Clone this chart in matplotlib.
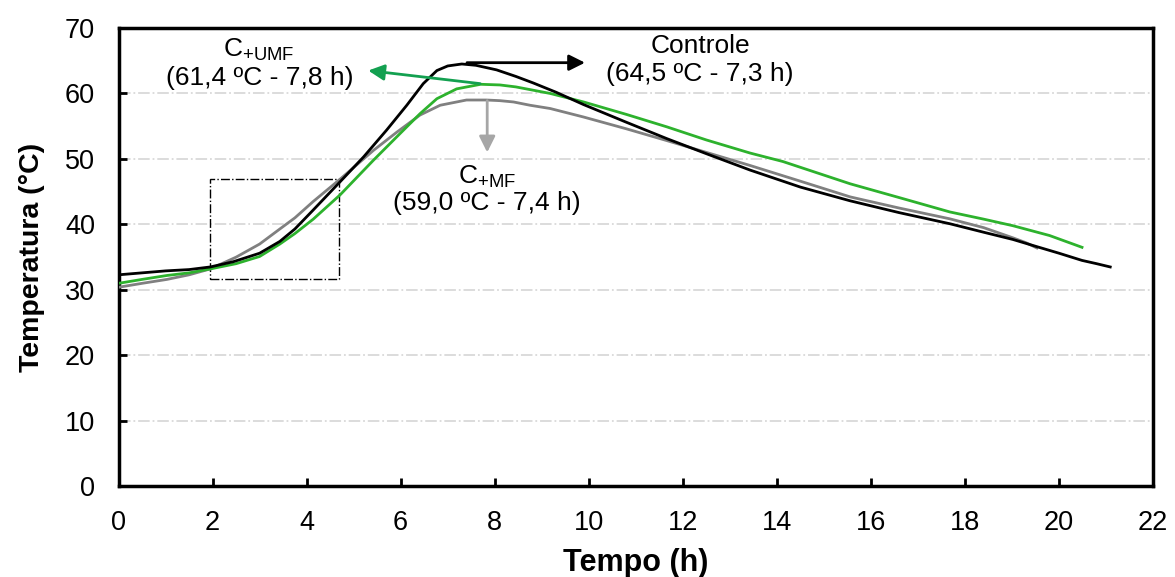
import matplotlib.pyplot as plt
from matplotlib.patches import Rectangle

plt.rcParams['font.family'] = ['Liberation Sans', 'DejaVu Sans']
plt.rcParams['mathtext.fontset'] = 'custom'
plt.rcParams['mathtext.rm'] = 'Liberation Sans'

# Curvas de temperatura (h, °C)
tempo_controle = [0.0, 0.5, 1.0, 1.5, 1.95, 2.44, 3.0, 3.43, 3.75, 4.14, 4.71, 5.21, 5.70,
                  6.13, 6.48, 6.77, 7.0, 7.3, 7.6, 8.04, 8.45, 8.82, 9.3, 9.89, 10.8, 11.66,
                  12.5, 13.43, 14.5, 15.56, 16.6, 17.68, 18.4, 19.02, 19.53, 20.0, 20.49,
                  20.8, 21.09]
temp_controle = [32.3, 32.6, 32.9, 33.1, 33.5, 34.3, 35.6, 37.4, 39.3, 42.2, 46.5, 50.3, 54.4,
                 58.2, 61.5, 63.5, 64.2, 64.5, 64.3, 63.6, 62.6, 61.6, 60.2, 58.3, 55.6, 53.1,
                 50.8, 48.3, 45.7, 43.6, 41.8, 40.1, 38.8, 37.7, 36.6, 35.6, 34.5, 34.0, 33.5]

tempo_umf = [0.0, 0.5, 1.03, 1.5, 1.95, 2.5, 3.0, 3.43, 3.75, 4.14, 4.71, 5.42, 5.99, 6.41,
             6.77, 7.19, 7.7, 8.11, 8.45, 9.18, 9.89, 10.8, 11.66, 12.5, 13.43, 14.13, 15.56,
             16.6, 17.68, 18.4, 19.02, 19.8, 20.49]
temp_umf = [31.0, 31.6, 32.2, 32.6, 33.2, 34.0, 35.1, 37.0, 38.6, 40.8, 44.5, 49.8, 53.9, 56.9,
            59.2, 60.7, 61.4, 61.3, 61.0, 60.0, 58.7, 56.8, 54.9, 52.9, 50.9, 49.6, 46.2,
            44.1, 41.9, 40.8, 39.8, 38.3, 36.5]

tempo_mf = [0.0, 0.5, 1.03, 1.5, 1.95, 2.5, 3.0, 3.43, 3.75, 4.14, 4.71, 5.42, 5.92, 6.41,
            6.84, 7.4, 7.82, 8.11, 8.40, 8.75, 9.18, 9.89, 10.8, 11.66, 12.5, 13.43, 14.5,
            15.56, 16.6, 17.68, 18.4, 19.02, 19.3, 19.53]
temp_mf = [30.4, 31.0, 31.6, 32.3, 33.2, 35.0, 37.0, 39.3, 41.0, 43.5, 46.9, 51.3, 54.1, 56.7,
           58.2, 59.0, 59.0, 58.9, 58.7, 58.2, 57.7, 56.4, 54.6, 52.8, 51.0, 49.0, 46.6,
           44.2, 42.5, 40.85, 39.5, 37.95, 37.2, 36.4]

fig = plt.figure(figsize=(11.75, 5.77), dpi=100)
ax = fig.add_axes([0.1009, 0.1572, 0.8804, 0.7943])

ax.plot(tempo_mf, temp_mf, color='#808080', lw=2, zorder=3)
ax.plot(tempo_umf, temp_umf, color='#2db22d', lw=2, zorder=4)
ax.plot(tempo_controle, temp_controle, color='black', lw=2, zorder=5)

# caixa de destaque da fase inicial
ax.add_patch(Rectangle((1.95, 31.7), 2.74, 15.2, fill=False, ec='black', lw=1, ls='-.', zorder=2))

# setas e rótulos dos picos
seta = dict(arrowstyle='-|>', lw=2, mutation_scale=24, shrinkA=0, shrinkB=0)
ax.annotate('', xy=(9.92, 64.7), xytext=(7.41, 64.7),
            arrowprops=dict(seta, color='black'), zorder=6)
ax.text(12.37, 67.3, 'Controle', ha='center', va='center', fontsize=19)
ax.text(12.37, 63.0, '(64,5 ºC - 7,3 h)', ha='center', va='center', fontsize=19)

ax.annotate('', xy=(5.31, 63.5), xytext=(7.69, 61.5),
            arrowprops=dict(seta, color='#13a050'), zorder=6)
ax.text(2.97, 66.6, r'C$_{\mathregular{+UMF}}$', ha='center', va='center', fontsize=19)
ax.text(3.01, 62.3, '(61,4 ºC - 7,8 h)', ha='center', va='center', fontsize=19)

ax.annotate('', xy=(7.84, 51.0), xytext=(7.84, 58.9),
            arrowprops=dict(seta, color='#a6a6a6'), zorder=6)
ax.text(7.84, 47.3, r'C$_{\mathregular{+MF}}$', ha='center', va='center', fontsize=19)
ax.text(7.84, 43.2, '(59,0 ºC - 7,4 h)', ha='center', va='center', fontsize=19)

ax.set_xlim(0, 22)
ax.set_ylim(0, 70)
ax.set_xticks(range(0, 23, 2))
ax.set_yticks(range(0, 71, 10))
ax.yaxis.grid(True, color='#d9d9d9', ls='-.', lw=1.3)
ax.set_axisbelow(True)
ax.tick_params(direction='in', length=6, width=2, labelsize=19.5, pad=17)
for s in ax.spines.values():
    s.set_linewidth(2.5)

ax.set_xlabel('Tempo (h)', fontsize=22, fontweight='bold', labelpad=9)
ax.set_ylabel('Temperatura (°C)', fontsize=20.5, fontweight='bold', labelpad=14)

fig.savefig('out.png', dpi=100)
